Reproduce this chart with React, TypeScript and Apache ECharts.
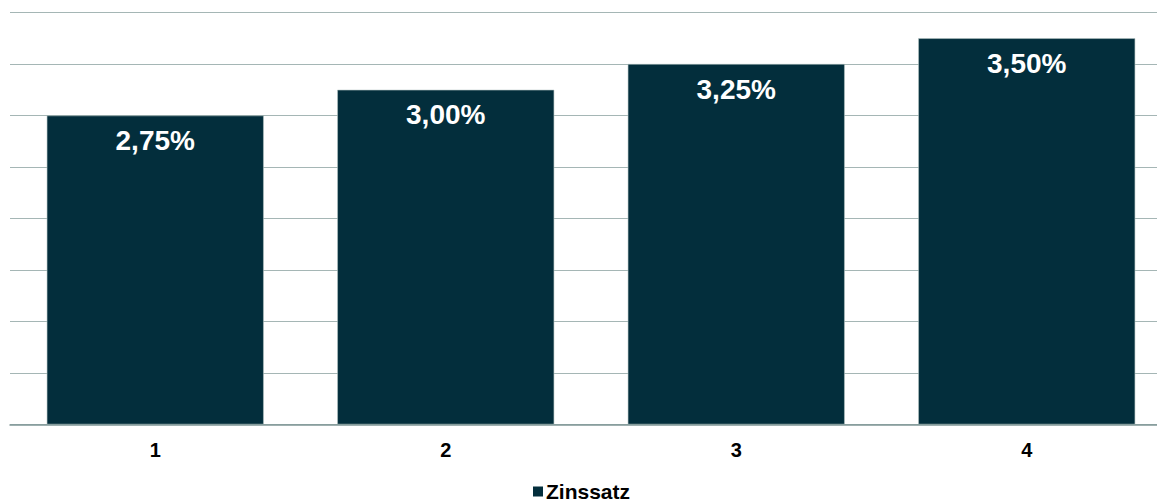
import React, { useEffect, useRef } from "react";
import * as echarts from "echarts";

const categories = ["1", "2", "3", "4"];
const zinssatz = [2.75, 3.0, 3.25, 3.5];
const seriesName = "Zinssatz";

export default function App() {
  const ref = useRef<HTMLDivElement>(null);
  useEffect(() => {
    if (!ref.current) return;
    const chart = echarts.init(ref.current, undefined, { renderer: "svg" });
    chart.setOption({
      animation: false,
      backgroundColor: "#ffffff",
      textStyle: { fontFamily: "Liberation Sans, Arial, sans-serif" },
      grid: { left: 10, top: 12.5, right: 0, bottom: 77.5 },
      legend: {
        data: [seriesName],
        bottom: -5,
        left: 528,
        icon: "rect",
        itemWidth: 10,
        itemHeight: 10,
        itemGap: 4,
        itemStyle: { borderWidth: 0 },
        textStyle: { fontSize: 21, fontWeight: "bold", color: "#000000", padding: [0, 0, 0, -2] },
      },
      xAxis: {
        type: "category",
        data: categories,
        axisLine: { show: true, onZero: false, lineStyle: { color: "#7f9696", width: 1.5 } },
        axisTick: { show: false },
        axisLabel: { fontSize: 20, fontWeight: "bold", color: "#000000", margin: 15 },
      },
      yAxis: [
        {
          type: "value",
          min: -0.25,
          max: 3.75,
          startValue: -0.25,
          show: false,
          splitLine: { show: false },
        },
        {
          type: "value",
          min: 0,
          max: 8,
          interval: 1,
          position: "left",
          axisLine: { show: false },
          axisTick: { show: false },
          axisLabel: { show: false },
          splitLine: { show: true, lineStyle: { color: "#a5b6b5", width: 1 } },
        },
      ],
      series: [
        {
          name: seriesName,
          type: "bar",
          yAxisIndex: 0,
          data: zinssatz,
          barCategoryGap: "25.3%",
          itemStyle: { color: "#032e3c", borderColor: "#b3c2c1", borderWidth: 0.6 },
          label: {
            show: true,
            position: "insideTop",
            distance: 11,
            color: "#ffffff",
            fontSize: 28,
            fontWeight: "bold",
            formatter: (p: any) => p.value.toFixed(2).replace(".", ",") + "%",
          },
        },
      ],
    });
    return () => chart.dispose();
  }, []);
  return (
    <div
      ref={ref}
      style={{ position: "fixed", left: 0, top: 0, width: 1172, height: 502 }}
    />
  );
}
